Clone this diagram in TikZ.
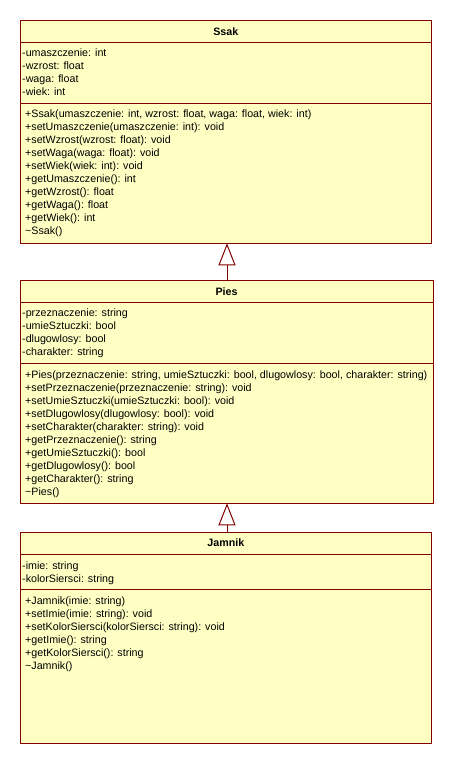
\documentclass[tikz,border=0pt]{standalone}
\usepackage{fontspec}
\setmainfont{Liberation Sans}
\usetikzlibrary{arrows.meta}
\definecolor{umlfill}{HTML}{FFFFC4}
\definecolor{umlline}{HTML}{800000}
\tikzset{
  classbox/.style={draw=umlline, fill=umlfill, line width=1pt},
  divider/.style={draw=umlline, line width=1pt},
  title/.style={font=\fontsize{10.7pt}{13pt}\selectfont\bfseries, inner sep=0pt, anchor=base},
  compart/.style={font=\fontsize{10.7pt}{13pt}\selectfont, align=left, inner sep=0pt, anchor=base west},
  inherit/.style={draw=umlline, line width=1pt, -{Triangle[open, width=17pt, length=22pt, line width=1pt]}}
}
\begin{document}
\begin{tikzpicture}[x=1pt,y=-1pt]
\useasboundingbox[fill=white] (0,0) rectangle (454,764);
% Ssak
\path[classbox] (20,20) rectangle (431.7,243.3);
\coordinate (ssakS) at (227,243.3);
\draw[divider] (20,42.3) -- (431.7,42.3);
\draw[divider] (20,103.3) -- (431.7,103.3);
\node[title] (ssakT) at (225.8,35.5) {Ssak};
\node[compart] (ssakA) at (22,95.5) {-umaszczenie: int\\-wzrost: float\\-waga: float\\-wiek: int};
\node[compart] (ssakM) at (25,234) {+Ssak(umaszczenie: int, wzrost: float, waga: float, wiek: int)\\+setUmaszczenie(umaszczenie: int): void\\+setWzrost(wzrost: float): void\\+setWaga(waga: float): void\\+setWiek(wiek: int): void\\+getUmaszczenie(): int\\+getWzrost(): float\\+getWaga(): float\\+getWiek(): int\\\textasciitilde Ssak()};
% Pies
\path[classbox] (20,280.7) rectangle (433.3,503.3);
\coordinate (piesN) at (227,280.7);
\coordinate (piesS) at (227,503.3);
\draw[divider] (20,302.3) -- (433.3,302.3);
\draw[divider] (20,363.3) -- (433.3,363.3);
\node[title] (piesT) at (226.6,295) {Pies};
\node[compart] (piesA) at (22,355.5) {-przeznaczenie: string\\-umieSztuczki: bool\\-dlugowlosy: bool\\-charakter: string};
\node[compart] (piesM) at (25,495) {+Pies(przeznaczenie: string, umieSztuczki: bool, dlugowlosy: bool, charakter: string)\\+setPrzeznaczenie(przeznaczenie: string): void\\+setUmieSztuczki(umieSztuczki: bool): void\\+setDlugowlosy(dlugowlosy: bool): void\\+setCharakter(charakter: string): void\\+getPrzeznaczenie(): string\\+getUmieSztuczki(): bool\\+getDlugowlosy(): bool\\+getCharakter(): string\\\textasciitilde Pies()};
% Jamnik
\path[classbox] (20,532.3) rectangle (431.7,743.3);
\coordinate (jamN) at (227,532.3);
\draw[divider] (20,554) -- (431.7,554);
\draw[divider] (20,589.3) -- (431.7,589.3);
\node[title] (jamT) at (225.8,546.5) {Jamnik};
\node[compart] (jamA) at (22,582.3) {-imie: string\\-kolorSiersci: string};
\node[compart] (jamM) at (25,669.5) {+Jamnik(imie: string)\\+setImie(imie: string): void\\+setKolorSiersci(kolorSiersci: string): void\\+getImie(): string\\+getKolorSiersci(): string\\\textasciitilde Jamnik()};
% inheritance
\draw[inherit] (piesN) -- (ssakS);
\draw[inherit] (jamN) -- (piesS);
\end{tikzpicture}
\end{document}
